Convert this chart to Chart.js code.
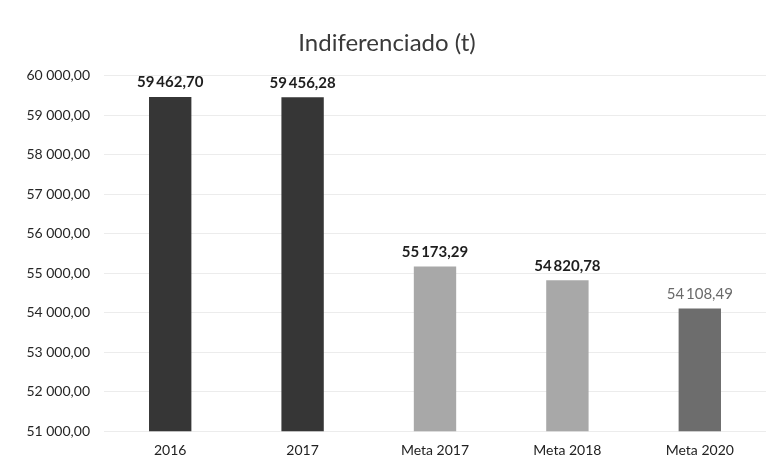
<!DOCTYPE html>
<html lang="pt">
<head>
  <meta charset="UTF-8" />
  <title>Indiferenciado (t)</title>
  <script src="https://cdn.jsdelivr.net/npm/chart.js"></script>
  <style>
    html, body { margin: 0; padding: 0; background: #fff; }
    #wrap { width: 778px; height: 466px; }
  </style>
</head>
<body>
  <div id="wrap"><canvas id="chart"></canvas></div>
  <script>
    const labels = ["2016", "2017", "Meta 2017", "Meta 2018", "Meta 2020"];
    const values = [59462.70, 59456.28, 55173.29, 54820.78, 54108.49];
    const barColors = ["#363636", "#363636", "#a8a8a8", "#a8a8a8", "#6d6d6d"];
    const labelColors = ["#1e1e1e", "#1e1e1e", "#1e1e1e", "#1e1e1e", "#6a6a6a"];
    const labelBold = [true, true, true, true, false];
    const yMin = 51000, yMax = 60000, yStep = 1000;

    const FONT = "Lato, 'Open Sans', sans-serif";

    // 59462.7 -> "59 462,70"
    function fmt(v, sep) {
      const parts = Number(v).toFixed(2).split(".");
      const int = parts[0].replace(/\B(?=(\d{3})+(?!\d))/g, sep || "\u2009");
      return int + "," + parts[1];
    }

    // draws the value above each bar
    const valueLabels = {
      id: "valueLabels",
      afterDatasetsDraw(chart) {
        const ctx = chart.ctx;
        const meta = chart.getDatasetMeta(0);
        ctx.save();
        ctx.textAlign = "center";
        ctx.textBaseline = "bottom";
        meta.data.forEach((bar, i) => {
          ctx.font = (labelBold[i] ? "bold " : "") + "15px " + FONT;
          ctx.fillStyle = labelColors[i];
          ctx.fillText(fmt(values[i]), bar.x, bar.y - 7);
        });
        ctx.restore();
      }
    };

    new Chart(document.getElementById("chart"), {
      type: "bar",
      data: {
        labels: labels,
        datasets: [{
          data: values,
          backgroundColor: barColors,
          borderWidth: 0,
          categoryPercentage: 1,
          barPercentage: 0.32
        }]
      },
      options: {
        responsive: true,
        maintainAspectRatio: false,
        animation: false,
        layout: { padding: { left: 8, right: 12, top: 0, bottom: 4 } },
        plugins: {
          legend: { display: false },
          tooltip: { enabled: false },
          title: {
            display: true,
            text: "Indiferenciado (t)",
            color: "#3a3a3a",
            font: { family: FONT, size: 24, weight: "normal" },
            padding: { top: 29, bottom: 18 }
          }
        },
        scales: {
          x: {
            grid: { display: false },
            border: { display: false },
            ticks: {
              color: "#222",
              font: { family: FONT, size: 14 },
              padding: 3
            }
          },
          y: {
            min: yMin,
            max: yMax,
            afterFit(axis) { axis.width = 96; },
            grid: { color: "#ececec", drawTicks: false },
            border: { display: false },
            ticks: {
              stepSize: yStep,
              color: "#262626",
              font: { family: FONT, size: 14 },
              padding: 14,
              callback: v => fmt(v, " ")
            }
          }
        }
      },
      plugins: [valueLabels]
    });
  </script>
</body>
</html>
